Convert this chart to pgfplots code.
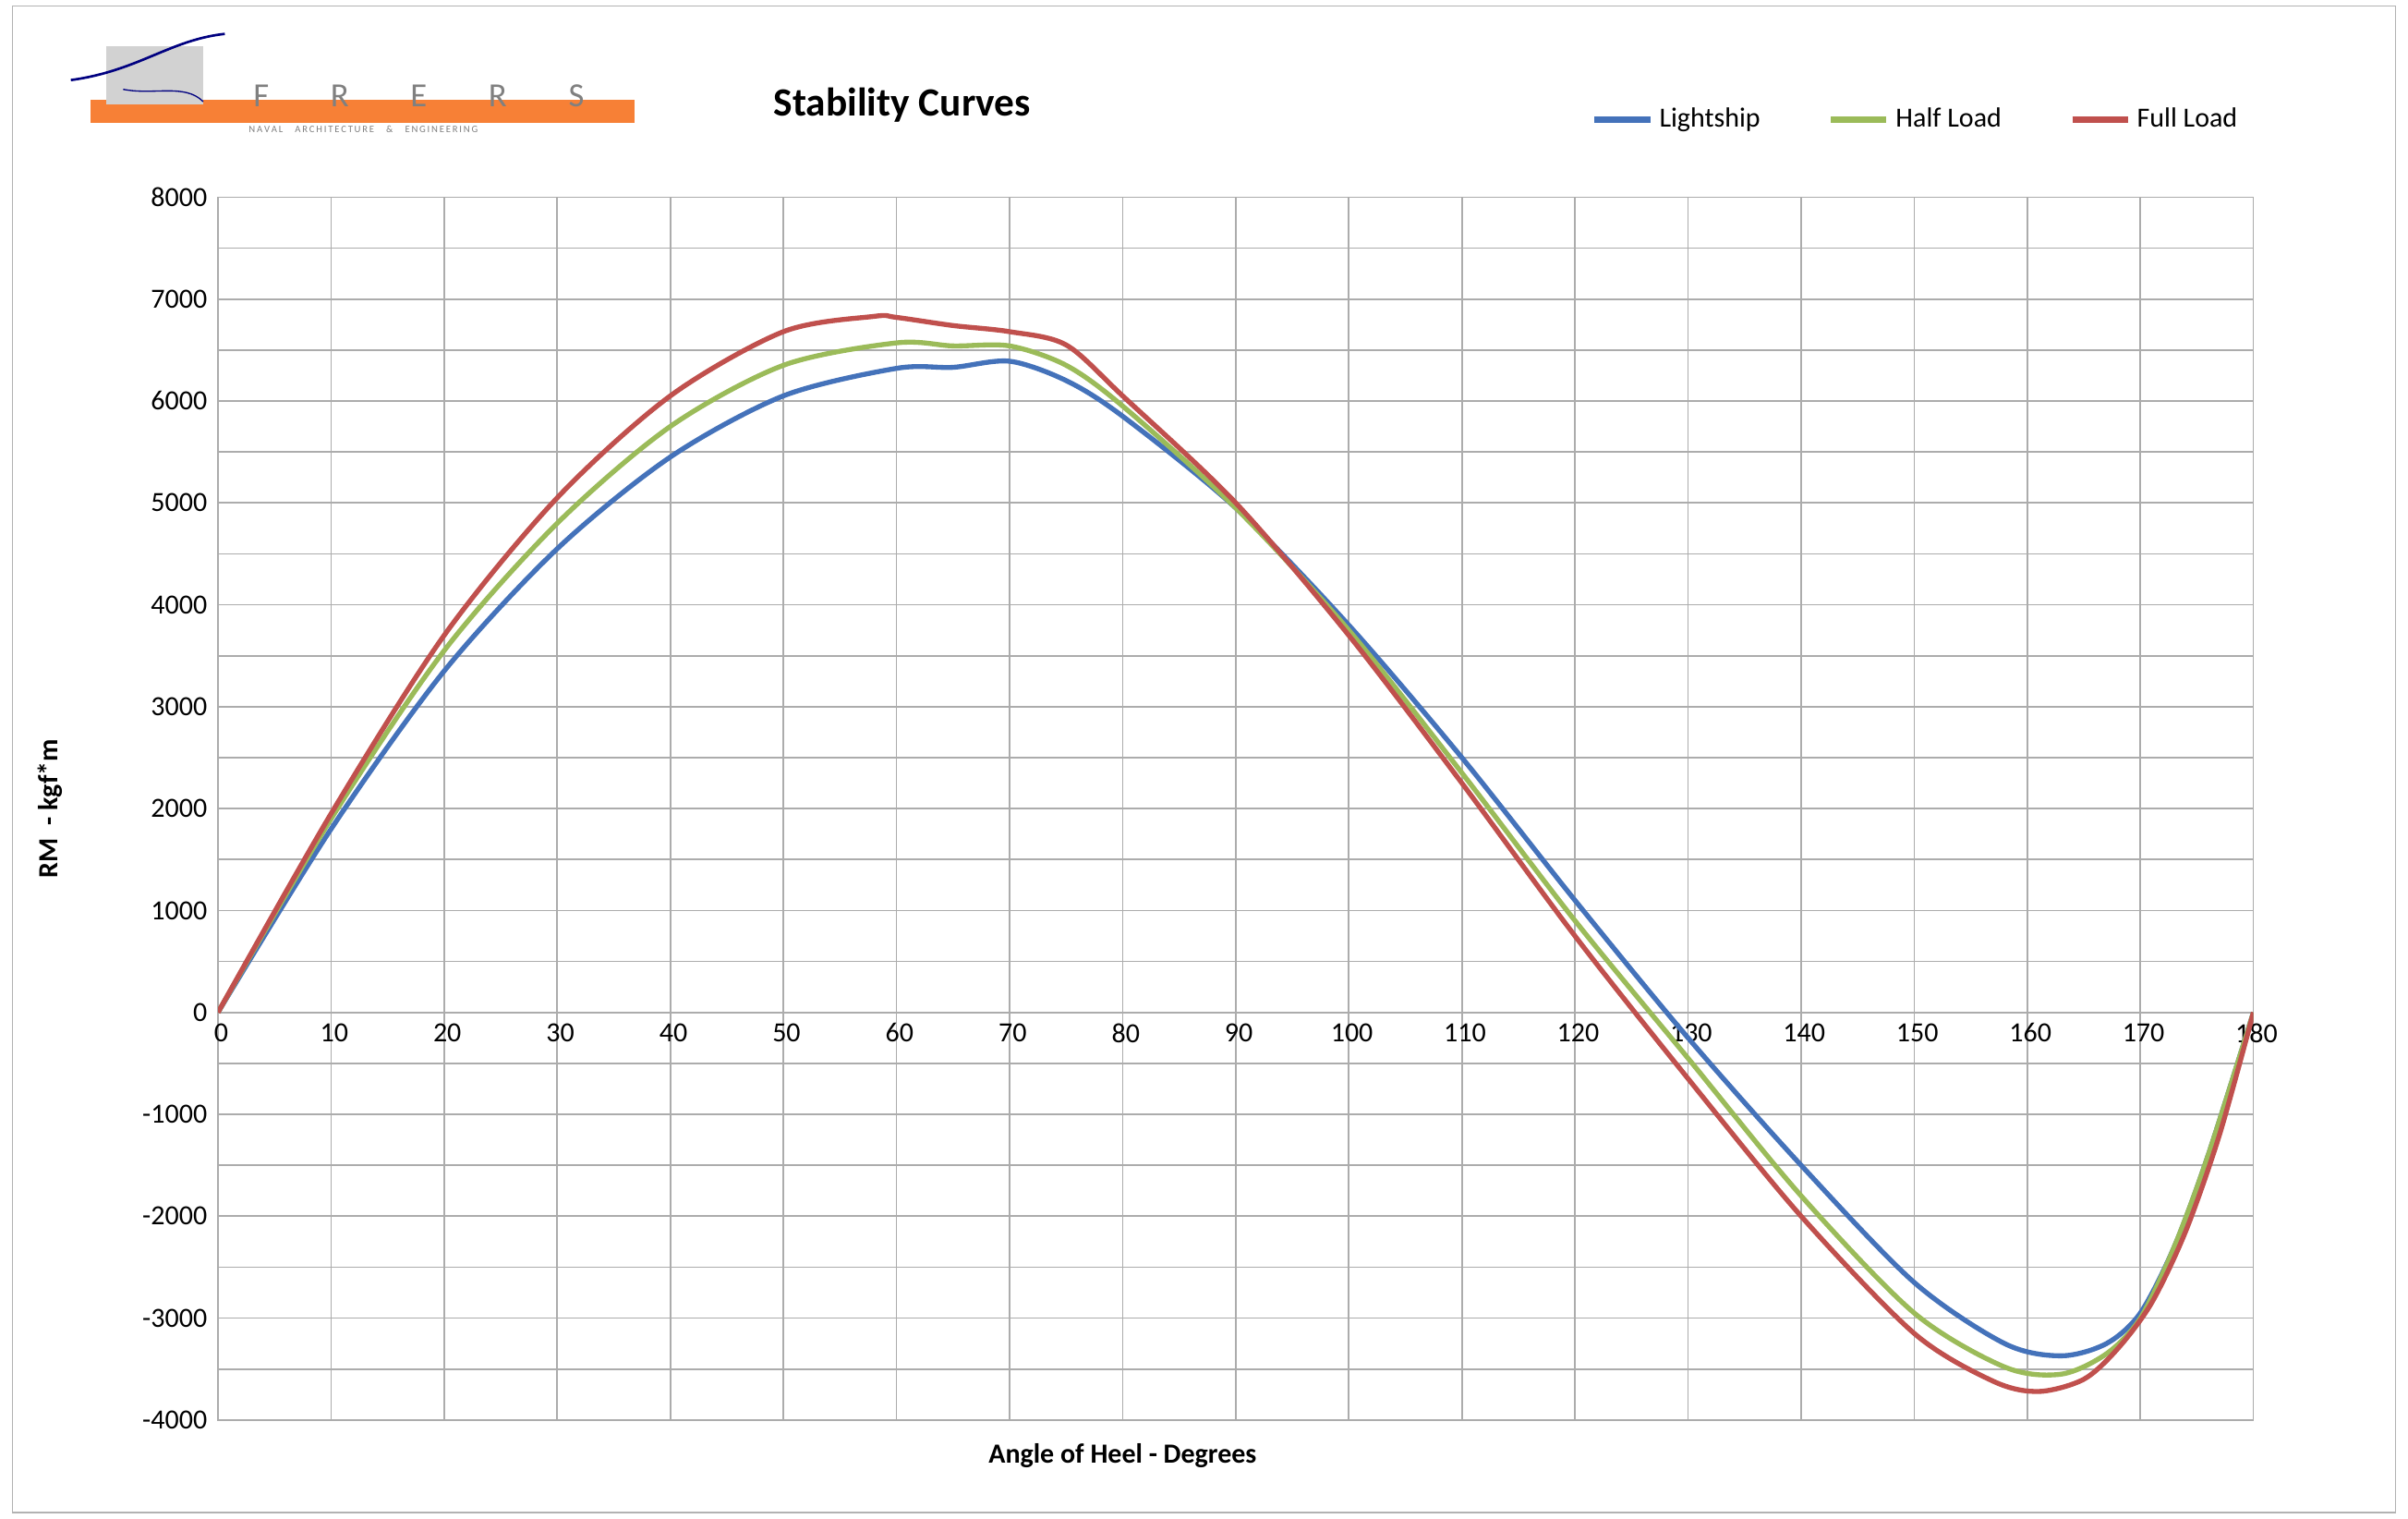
\documentclass[border=0pt]{standalone}
\usepackage{pgfplots}
\pgfplotsset{compat=1.18}
\usepackage{fontspec}
\setmainfont{Carlito}
\definecolor{cL}{RGB}{68,114,186}
\definecolor{cH}{RGB}{155,187,89}
\definecolor{cF}{RGB}{192,80,77}
\definecolor{orng}{RGB}{247,128,54}
\begin{document}
\begin{tikzpicture}
\path[use as bounding box] (0,0) rectangle (782pt,493pt);
\draw[gray!60] (4pt,2pt) rectangle (778pt,491pt);
% logo
\fill[orng] (29.5pt,453pt) rectangle (206pt,460.5pt);
\fill[gray!35] (34.5pt,459pt) rectangle (66pt,478pt);
\draw[blue!50!black,thick] (23pt,467pt) .. controls (45pt,470pt) and (55pt,480pt) .. (73pt,482pt);
\draw[blue!50!black] (40pt,464pt) .. controls (50pt,462pt) and (60pt,466pt) .. (66pt,460pt);
\node[gray,font=\fontsize{11}{11}\selectfont] at (136pt,462pt) {F\hspace{20pt}R\hspace{20pt}E\hspace{20pt}R\hspace{20pt}S};
\node[gray,font=\fontsize{3.2}{3.2}\selectfont] at (118pt,451pt) {N\,A\,V\,A\,L \quad A\,R\,C\,H\,I\,T\,E\,C\,T\,U\,R\,E \quad \& \quad E\,N\,G\,I\,N\,E\,E\,R\,I\,N\,G};
\node[font=\bfseries\fontsize{13}{15}\selectfont] at (293pt,459pt) {Stability Curves};
\begin{axis}[
  at={(70.8pt,32pt)}, anchor=south west,
  width=661pt, height=397pt, scale only axis,
  xmin=0, xmax=180, ymin=-4000, ymax=8000,
  xtick={0,10,...,180}, ytick={-4000,-3000,...,8000},
  extra y ticks={-3500,-2500,...,7500}, extra y tick labels={},
  grid=major, major grid style={gray!65, line width=0.5pt},
  extra y tick style={grid=major},
  axis line style={gray!65, line width=0.5pt}, tick style={draw=none},
  tick label style={font=\fontsize{9}{10}\selectfont},
  /pgf/number format/assume math mode=true,
  scaled y ticks=false,
  yticklabel style={/pgf/number format/1000 sep={}},
  x tick label style={yshift=132.3pt, xshift=1pt},
  xlabel={\bfseries Angle of Heel - Degrees},
  ylabel={\bfseries RM\ \ - kgf*m},
  label style={font=\fontsize{9}{10}\selectfont},
  xlabel style={at={(axis cs:80,-4000)}, yshift=-4pt},
  ylabel style={yshift=19pt},
  legend columns=3,
  legend style={at={(1,1)}, anchor=south east, yshift=17pt, draw=none, fill=none,
    font=\fontsize{9}{10}\selectfont, /tikz/every even column/.append style={column sep=20pt}},
  legend image code/.code={\draw[#1,line width=2pt] (0pt,0pt) -- (18pt,0pt);},
  every axis plot/.append style={line width=1.6pt, smooth, no marks},
]
\addplot[cL] coordinates {(0,0)(10,1800)(20,3350)(30,4550)(40,5450)(50,6050)(60,6320)(65,6330)(70,6390)(75,6200)(80,5850)(90,4950)(100,3800)(110,2500)(120,1100)(130,-250)(140,-1500)(150,-2650)(158,-3250)(163,-3370)(167,-3250)(170,-2950)(173,-2300)(176,-1400)(180,0)};
\addlegendentry{Lightship}
\addplot[cH] coordinates {(0,0)(10,1900)(20,3550)(30,4800)(40,5750)(50,6350)(60,6570)(65,6540)(70,6540)(75,6350)(80,5950)(90,4950)(100,3750)(110,2350)(120,900)(130,-450)(140,-1800)(150,-2950)(158,-3480)(163,-3550)(167,-3350)(170,-3000)(173,-2300)(176,-1400)(180,0)};
\addlegendentry{Half Load}
\addplot[cF] coordinates {(0,0)(10,1950)(20,3700)(30,5050)(40,6050)(50,6680)(58,6830)(60,6820)(65,6740)(70,6680)(75,6550)(80,6050)(90,5000)(100,3700)(110,2250)(120,750)(130,-650)(140,-2000)(150,-3150)(157,-3620)(161,-3720)(165,-3600)(168,-3300)(171,-2850)(174,-2150)(177,-1200)(180,0)};
\addlegendentry{Full Load}
\end{axis}
\end{tikzpicture}
\end{document}
